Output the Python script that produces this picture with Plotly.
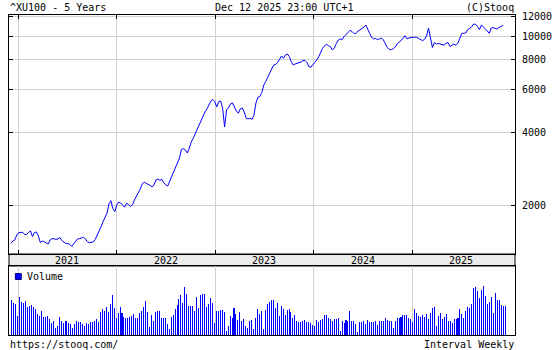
import pandas as pd
import plotly.graph_objects as go

# ---------------- data ----------------
title_text = "^XU100 - 5 Years"
date_text = "Dec 12 2025 23:00 UTC+1"
source_text = "(C)Stooq"
url_text = "https://stooq.com/"
interval_text = "Interval Weekly"
volume_label = "Volume"

price_start = "2020-12-05"
price_end = "2025-12-03"
price_values = [
    1389, 1422, 1436, 1506, 1540, 1540, 1546, 1513, 1513, 1543, 1565, 1482, 1540, 1550, 1492, 1402,
    1422, 1413, 1396, 1382, 1436, 1454, 1454, 1443, 1450, 1470, 1429, 1402, 1389, 1389, 1377, 1351,
    1382, 1429, 1450, 1454, 1466, 1473, 1450, 1413, 1399, 1399, 1409, 1443, 1499, 1558, 1630, 1709,
    1779, 1852, 2023, 2087, 1938, 1880, 2004, 2061, 2042, 1998, 1960, 2036, 2014, 1976, 2004, 2101,
    2172, 2235, 2333, 2446, 2493, 2462, 2446, 2416, 2377, 2423, 2541, 2565, 2534, 2558, 2476, 2423,
    2400, 2517, 2627, 2742, 2848, 3001, 3132, 3403, 3421, 3380, 3285, 3444, 3651, 3781, 3947, 4072,
    4291, 4457, 4643, 4856, 4996, 5189, 5390, 5468, 5354, 5091, 5354, 5390, 5030, 4210, 4949, 5052,
    5239, 5289, 5043, 4902, 4796, 4996, 5043, 4856, 4574, 4543, 4574, 4522, 4719, 5289, 5583, 5626,
    5844, 6276, 6488, 6752, 7015, 7342, 7591, 7628, 7757, 7998, 8268, 8090, 8347, 8427, 8228, 7832,
    7591, 7664, 7700, 7737, 7811, 7922, 7922, 7774, 7469, 7426, 7591, 7832, 7960, 8213, 8613, 8897,
    9093, 9268, 9093, 9032, 8754, 8923, 9312, 9626, 9718, 9672, 9952, 10145, 10290, 10557, 10438, 10242,
    10242, 10487, 10588, 10690, 10873, 11103, 10740, 10261, 9858, 9737, 9765, 9672, 9718, 9811, 9626, 9330,
    8963, 8813, 8779, 8855, 9007, 9268, 9420, 9571, 9765, 10029, 9737, 9811, 9886, 9886, 9874, 9886,
    9765, 9654, 9571, 9691, 10000, 10761, 9811, 8963, 9402, 9268, 9312, 9268, 9242, 9163, 9357, 9384,
    9050, 9180, 9268, 9163, 9339, 9784, 10261, 10261, 10290, 10619, 10740, 10893, 11209, 11178, 10955, 10619,
    11103, 10841, 10700, 10487, 10261, 10792, 10823, 10740, 10690, 10862, 10924, 11103,
]

volume_start = "2020-12-09"
volume_end = "2025-12-11"
volume_values = [
    105, 97, 92, 57, 114, 100, 97, 102, 84, 87, 90, 84, 77, 62, 57, 72, 54, 54, 57, 47, 37, 42, 22, 27,
    54, 42, 37, 42, 42, 37, 32, 22, 34, 42, 40, 39, 34, 27, 37, 34, 40, 40, 42, 49, 40, 69, 77, 72, 84,
    70, 92, 120, 82, 50, 67, 84, 67, 55, 50, 52, 54, 57, 62, 52, 50, 67, 72, 84, 102, 70, 24, 60, 42, 70,
    72, 72, 50, 50, 50, 32, 19, 54, 60, 77, 90, 107, 120, 97, 144, 122, 87, 87, 87, 72, 114, 80, 120, 122,
    124, 84, 92, 110, 97, 37, 72, 72, 74, 76, 68, 12, 27, 57, 50, 82, 62, 44, 70, 42, 47, 27, 22, 42, 44,
    17, 52, 77, 64, 72, 17, 74, 94, 100, 104, 104,
    80, 97, 57, 87, 77, 60, 74, 77, 70, 50, 60, 42, 40, 40, 42, 44, 40, 40, 37, 29, 27, 44, 40, 44, 47,
    60, 60, 50, 47, 42, 47, 49, 50, 12, 42, 37, 44, 42, 72, 42, 42, 32, 10, 40, 40, 42, 32, 44, 40, 40,
    40, 42, 30, 42, 42, 42, 50, 44, 42, 42, 22, 42, 50, 50, 54, 60, 60, 60, 50, 47, 40, 77, 67, 57, 54,
    60, 54, 62, 47, 67, 80, 84, 27, 57, 67, 47, 54, 64, 42, 42, 37, 47, 47, 50, 77, 62, 50, 72, 84, 80,
    94, 140, 144, 132, 110, 134, 147, 117, 94, 100, 114, 67, 127, 105, 105, 90, 87, 87,
]

year_starts = ["2021-01-01", "2022-01-01", "2023-01-01", "2024-01-01", "2025-01-01"]
year_mids = ["2021-07-02", "2022-07-02", "2023-07-02", "2024-07-02", "2025-07-02"]
year_labels = ["2021", "2022", "2023", "2024", "2025"]

price_ticks = [2000, 4000, 6000, 8000, 10000, 12000]
price_tick_labels = ["2000", "4000", "6000", "8000", "10000", "12000"]

x_range = ["2020-11-28", "2026-01-16 12:00"]

# ---------------- figure ----------------
price_dates = pd.date_range(price_start, price_end, periods=len(price_values))
volume_dates = pd.date_range(volume_start, volume_end, periods=len(volume_values))

FONT = "DejaVu Sans Mono"
BLUE = "#0000ff"
GRID = "#d0d0d0"
BAND = "#ececec"

fig = go.Figure()
fig.add_trace(go.Scatter(x=price_dates, y=price_values, mode="lines",
                         line=dict(color=BLUE, width=1), xaxis="x", yaxis="y",
                         showlegend=False, hoverinfo="skip"))
# very thin bars: plotly expands them to exactly one visible pixel column
fig.add_trace(go.Bar(x=volume_dates, y=volume_values, marker=dict(color=BLUE, line=dict(width=0)),
                     width=0.15 * 86400000, xaxis="x2", yaxis="y2", showlegend=False,
                     hoverinfo="skip"))

main_bottom = 81 / 320
vol_top = 69 / 320

fig.update_layout(
    width=560, height=350,
    margin=dict(l=8, r=36, t=15, b=15),
    paper_bgcolor="white", plot_bgcolor="white",
    font=dict(family=FONT, size=10, color="black"),
    bargap=0,
    xaxis=dict(domain=[0, 1], anchor="y", type="date", range=x_range,
               tickvals=year_starts, showticklabels=False,
               ticks="inside", ticklen=4, tickcolor="black",
               showgrid=True, gridcolor=GRID, gridwidth=1,
               showline=True, linecolor="black", linewidth=1, mirror="ticks",
               zeroline=False),
    yaxis=dict(domain=[main_bottom, 1], anchor="x", type="log",
               range=[3.0992, 4.0868], side="right",
               tickvals=price_ticks, ticktext=price_tick_labels,
               ticks="inside", ticklen=4, tickcolor="black",
               showgrid=True, gridcolor=GRID, gridwidth=1,
               showline=True, linecolor="black", linewidth=1, mirror="ticks",
               tickfont=dict(family=FONT, size=10, color="black"),
               ticklabelstandoff=4, zeroline=False),
    xaxis2=dict(domain=[0, 1], anchor="y2", type="date", range=x_range,
                tickvals=year_starts, showticklabels=False, ticks="",
                showgrid=True, gridcolor=GRID, gridwidth=1,
                showline=True, linecolor="black", linewidth=1, mirror=True,
                zeroline=False),
    yaxis2=dict(domain=[0, vol_top], anchor="x2", range=[0, 207],
                showticklabels=False, ticks="", showgrid=False,
                showline=True, linecolor="black", linewidth=1, mirror=True,
                zeroline=False),
)

# grey band between panes holding the year labels
fig.add_shape(type="rect", xref="paper", yref="paper", x0=0, x1=1, y0=vol_top, y1=main_bottom,
              fillcolor=BAND, line=dict(color="black", width=1), layer="below")

# year labels, centred in each year, placed in the band
for d, lab in zip(year_mids, year_labels):
    fig.add_annotation(text=lab, xref="x", yref="paper", x=d, y=(vol_top + main_bottom) / 2,
                       xanchor="center", yanchor="middle", showarrow=False,
                       font=dict(family=FONT, size=10, color="black"))

# volume legend swatch
fig.add_shape(type="rect", xref="paper", yref="paper",
              x0=6.5 / 516, x1=12.5 / 516, y0=(335 - 279.5) / 320, y1=(335 - 273.5) / 320,
              fillcolor=BLUE, line=dict(color="#000080", width=1))

def note(text, x, y, xanchor):
    fig.add_annotation(text=text, xref="paper", yref="paper", x=x, y=y,
                       xanchor=xanchor, yanchor="middle", showarrow=False,
                       font=dict(family=FONT, size=10, color="black"))

note(volume_label, 16.5 / 516, (335 - 276.5) / 320, "left")
note(title_text, -0.002, (335 - 8) / 320, "left")
note(date_text, 208 / 516, (335 - 8) / 320, "left")
note(source_text, 1.002, (335 - 8) / 320, "right")
note(url_text, -0.002, (335 - 344) / 320, "left")
note(interval_text, 1.002, (335 - 344) / 320, "right")

fig.write_html("out.html")
